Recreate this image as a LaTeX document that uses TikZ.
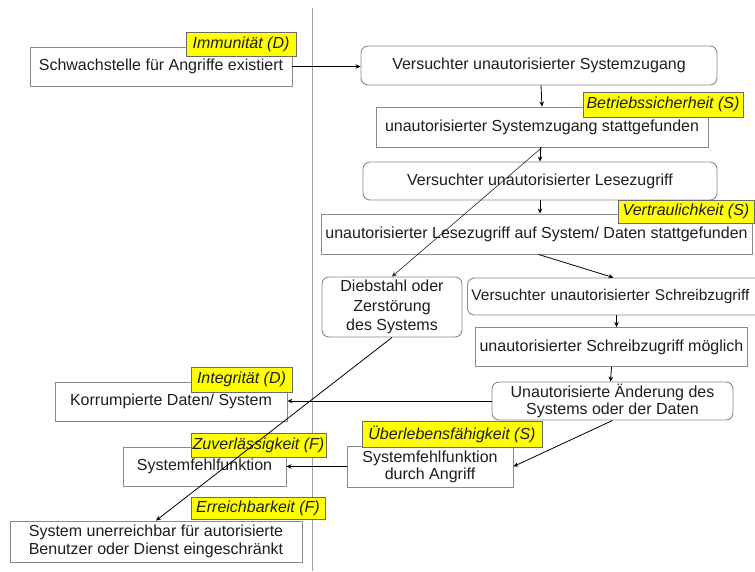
\documentclass[tikz,border=0pt]{standalone}
\usepackage{fontspec}
\setmainfont{Liberation Sans}
\usetikzlibrary{arrows.meta}
\definecolor{boxgray}{HTML}{8A8A8A}
\definecolor{taggray}{HTML}{6A6A6A}
\definecolor{txt}{HTML}{1E1E1E}
\definecolor{tagyellow}{HTML}{FFFF00}
\definecolor{vline}{HTML}{A0A0A0}
\begin{document}
\begin{tikzpicture}[x=1pt,y=-1pt,
  box/.style={draw=boxgray, line width=0.9pt, fill=white, text=txt, inner sep=2pt,
    font=\fontsize{16}{18}\selectfont, align=center},
  rbox/.style={box, rounded corners=7pt},
  tag/.style={draw=taggray, line width=0.7pt, fill=tagyellow, text=txt, inner sep=0pt,
    font=\fontsize{16}{18}\itshape\selectfont},
  arr/.style={draw=black, line width=0.8pt, -{Stealth[length=5pt,width=4.5pt]}},
  thin arr/.style={draw=black!85, line width=0.6pt, -{Stealth[length=5pt,width=4.5pt]}}
]
\useasboundingbox (0,0) rectangle (755,571);
\fill[white] (0,0) rectangle (755,571);

% vertical separator
\draw[vline, line width=1pt] (312,8) -- (312,571);

% boxes
\node[box, minimum width=262, minimum height=39] (weak) at (161,66.5) {Schwachstelle für Angriffe existiert};
\node[rbox, minimum width=356, minimum height=39] (vsz) at (539,65.5) {Versuchter unautorisierter Systemzugang};
\node[box, minimum width=332, minimum height=40] (szs) at (542,127) {unautorisierter Systemzugang stattgefunden};
\node[rbox, minimum width=354, minimum height=38] (vlz) at (540,181) {Versuchter unautorisierter Lesezugriff};
\node[box, minimum width=431, minimum height=40] (lzs) at (536.5,234) {unautorisierter Lesezugriff auf System/ Daten stattgefunden};
\node[rbox, minimum width=140, minimum height=60, font=\fontsize{16}{19.5}\selectfont] (dieb) at (392,307) {Diebstahl oder\\Zerstörung\\des Systems};
\node[rbox, anchor=west, inner xsep=4pt, text width=290, align=left, minimum height=37,
  font=\fontsize{15.5}{18}\selectfont] (vsw) at (467,296.5) {Versuchter unautorisierter Schreibzugriff};
\node[box, minimum width=272, minimum height=39] (swm) at (611.5,347) {unautorisierter Schreibzugriff möglich};
\node[rbox, minimum width=241, minimum height=38, font=\fontsize{16}{16.5}\selectfont] (uad) at (612.5,401) {Unautorisierte Änderung des\\Systems oder der Daten};
\node[box, minimum width=232, minimum height=39] (korr) at (171,401.5) {Korrumpierte Daten/ System};
\node[box, minimum width=166, minimum height=41, font=\fontsize{16}{17}\selectfont] (sfa) at (430,466.5) {Systemfehlfunktion\\durch Angriff};
\node[box, minimum width=163, minimum height=39] (sf) at (204.5,466.5) {Systemfehlfunktion};
\node[box, minimum width=292, minimum height=41] (unerr) at (156,541.5) {System unerreichbar für autorisierte\\Benutzer oder Dienst eingeschränkt};

% tags
\node[tag, minimum width=110, minimum height=24] (tImm) at (241,44) {Immunität (D)};
\node[tag, minimum width=160, minimum height=25] (tBet) at (663,104.5) {Betriebssicherheit (S)};
\node[tag, minimum width=136, minimum height=23] (tVer) at (686,211.5) {Vertraulichkeit (S)};
\node[tag, minimum width=101, minimum height=25] (tInt) at (241.5,379.5) {Integrität (D)};
\node[tag, minimum width=180, minimum height=26] (tUeb) at (452,434) {Überlebensfähigkeit (S)};
\node[tag, minimum width=135, minimum height=24] (tZuv) at (258.5,445) {Zuverlässigkeit (F)};
\node[tag, minimum width=134, minimum height=22] (tErr) at (258,508.5) {Erreichbarkeit (F)};

% connectors
\draw[arr] (weak.east) -- (weak.east -| vsz.west);
\draw[arr] ([xshift=2pt]vsz.south) -- (szs.north);
\draw[arr] (szs.south -| vlz.north) -- (vlz.north);
\draw[arr] (vlz.south) -- (vlz.south |- lzs.north);
\draw[arr] ([xshift=2pt]lzs.south) -- ([xshift=-3pt]vsw.north);
\draw[arr] (vsw.south) -- (vsw.south |- swm.north);
\draw[arr] (swm.south) -- ([xshift=-2pt]uad.north);
\draw[arr] (uad.west) -- (uad.west -| korr.east);
\draw[arr] (uad.south) -- (sfa.east);
\draw[arr] (sfa.west) -- (sfa.west -| sf.east);
\draw[thin arr] (szs.south) -- (dieb.north);
\draw[arr] (dieb.south) -- (unerr.north);
\end{tikzpicture}
\end{document}
